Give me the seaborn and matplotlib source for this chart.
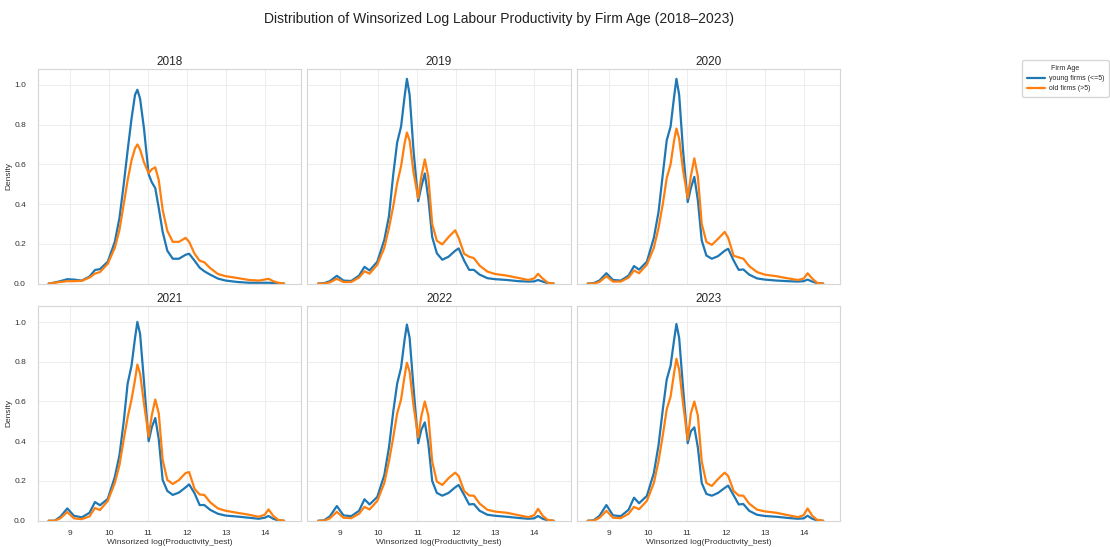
import numpy as np
import pandas as pd
import seaborn as sns
import matplotlib.pyplot as plt
from matplotlib.lines import Line2D

sns.set_theme(style="whitegrid")
plt.rcParams["font.family"] = ["Liberation Sans", "DejaVu Sans"]

years = [2018, 2019, 2020, 2021, 2022, 2023]
groups = ["young firms (<=5)", "old firms (>5)"]
colors = ["#1f77b4", "#ff7f0e"]

x_grid = [8.45, 8.6, 8.75, 8.93, 9.1, 9.3, 9.5, 9.64, 9.77, 9.97,
          10.15, 10.27, 10.38, 10.48, 10.58, 10.67, 10.73, 10.8, 10.9, 11.02,
          11.1, 11.19, 11.28, 11.38, 11.5, 11.64, 11.8, 11.97, 12.06, 12.2,
          12.33, 12.45, 12.6, 12.8, 13.0, 13.3, 13.6, 13.85, 14.0, 14.1,
          14.22, 14.35, 14.5]

young_2018 = [0.0, 0.005, 0.012, 0.022, 0.02, 0.015, 0.035, 0.068, 0.073, 0.11,
              0.21, 0.33, 0.5, 0.67, 0.83, 0.95, 0.975, 0.93, 0.78, 0.55,
              0.51, 0.48, 0.38, 0.26, 0.165, 0.125, 0.125, 0.145, 0.15, 0.115,
              0.08, 0.062, 0.045, 0.025, 0.015, 0.008, 0.004, 0.004, 0.004, 0.004,
              0.003, 0.002, 0.0]
old_2018 = [0.0, 0.004, 0.008, 0.012, 0.012, 0.014, 0.03, 0.05, 0.058, 0.1,
            0.18, 0.27, 0.4, 0.52, 0.62, 0.68, 0.70, 0.675, 0.61, 0.555,
            0.575, 0.585, 0.52, 0.37, 0.265, 0.21, 0.21, 0.23, 0.21, 0.15,
            0.115, 0.107, 0.078, 0.048, 0.037, 0.028, 0.018, 0.015, 0.02, 0.024,
            0.012, 0.004, 0.0]

young_2019 = [0.0, 0.002, 0.012, 0.039, 0.015, 0.013, 0.04, 0.084, 0.066, 0.11,
              0.22, 0.34, 0.55, 0.71, 0.79, 0.94, 1.03, 0.95, 0.67, 0.415,
              0.487, 0.554, 0.43, 0.234, 0.152, 0.12, 0.135, 0.165, 0.177, 0.116,
              0.069, 0.069, 0.045, 0.027, 0.022, 0.018, 0.012, 0.01, 0.011, 0.018,
              0.01, 0.002, 0.0]
old_2019 = [0.0, 0.0, 0.006, 0.024, 0.008, 0.008, 0.03, 0.062, 0.05, 0.095,
            0.18, 0.28, 0.39, 0.505, 0.59, 0.705, 0.76, 0.72, 0.56, 0.43,
            0.537, 0.625, 0.537, 0.30, 0.215, 0.197, 0.234, 0.268, 0.23, 0.15,
            0.135, 0.128, 0.09, 0.06, 0.048, 0.04, 0.028, 0.018, 0.026, 0.049,
            0.025, 0.004, 0.0]

young_2020 = [0.0, 0.002, 0.015, 0.052, 0.018, 0.015, 0.04, 0.088, 0.07, 0.11,
              0.23, 0.36, 0.55, 0.72, 0.79, 0.94, 1.03, 0.95, 0.67, 0.41,
              0.48, 0.537, 0.42, 0.217, 0.141, 0.125, 0.138, 0.165, 0.175, 0.116,
              0.069, 0.071, 0.045, 0.026, 0.02, 0.015, 0.012, 0.01, 0.012, 0.02,
              0.01, 0.002, 0.0]
old_2020 = [0.0, 0.0, 0.008, 0.037, 0.01, 0.01, 0.03, 0.066, 0.052, 0.095,
            0.18, 0.28, 0.40, 0.53, 0.60, 0.72, 0.78, 0.73, 0.57, 0.43,
            0.54, 0.63, 0.54, 0.30, 0.21, 0.195, 0.225, 0.26, 0.23, 0.14,
            0.132, 0.125, 0.088, 0.058, 0.045, 0.037, 0.026, 0.018, 0.025, 0.052,
            0.025, 0.003, 0.0]

young_2021 = [0.0, 0.0, 0.02, 0.062, 0.025, 0.017, 0.04, 0.094, 0.078, 0.11,
              0.22, 0.33, 0.50, 0.69, 0.78, 0.92, 1.0, 0.94, 0.70, 0.40,
              0.47, 0.517, 0.41, 0.205, 0.15, 0.13, 0.142, 0.168, 0.183, 0.138,
              0.079, 0.079, 0.055, 0.035, 0.026, 0.021, 0.015, 0.01, 0.015, 0.024,
              0.01, 0.002, 0.0]
old_2021 = [0.0, 0.0, 0.012, 0.044, 0.012, 0.008, 0.022, 0.064, 0.054, 0.1,
            0.19, 0.28, 0.41, 0.52, 0.61, 0.71, 0.786, 0.74, 0.59, 0.424,
            0.53, 0.61, 0.54, 0.306, 0.205, 0.185, 0.205, 0.24, 0.245, 0.16,
            0.132, 0.13, 0.093, 0.062, 0.05, 0.04, 0.03, 0.02, 0.03, 0.057,
            0.025, 0.004, 0.0]

young_2022 = [0.0, 0.002, 0.022, 0.074, 0.027, 0.023, 0.05, 0.108, 0.082, 0.12,
              0.23, 0.37, 0.55, 0.69, 0.77, 0.91, 0.987, 0.92, 0.67, 0.39,
              0.458, 0.495, 0.39, 0.20, 0.14, 0.126, 0.14, 0.168, 0.18, 0.13,
              0.082, 0.084, 0.05, 0.03, 0.025, 0.02, 0.014, 0.01, 0.012, 0.024,
              0.01, 0.002, 0.0]
old_2022 = [0.0, 0.0, 0.012, 0.045, 0.015, 0.013, 0.035, 0.07, 0.057, 0.1,
            0.19, 0.30, 0.42, 0.54, 0.61, 0.727, 0.795, 0.75, 0.58, 0.42,
            0.525, 0.60, 0.53, 0.298, 0.197, 0.18, 0.214, 0.242, 0.225, 0.15,
            0.127, 0.126, 0.086, 0.055, 0.046, 0.04, 0.028, 0.018, 0.028, 0.06,
            0.025, 0.004, 0.0]

young_2023 = [0.0, 0.002, 0.024, 0.079, 0.027, 0.023, 0.055, 0.116, 0.088, 0.125,
              0.24, 0.38, 0.56, 0.71, 0.78, 0.91, 0.99, 0.92, 0.67, 0.39,
              0.45, 0.47, 0.37, 0.19, 0.135, 0.126, 0.14, 0.165, 0.177, 0.128,
              0.082, 0.084, 0.05, 0.03, 0.024, 0.02, 0.014, 0.01, 0.012, 0.025,
              0.01, 0.002, 0.0]
old_2023 = [0.0, 0.0, 0.014, 0.05, 0.015, 0.013, 0.035, 0.07, 0.058, 0.1,
            0.19, 0.30, 0.43, 0.56, 0.625, 0.744, 0.815, 0.76, 0.59, 0.407,
            0.54, 0.60, 0.53, 0.298, 0.19, 0.175, 0.21, 0.242, 0.225, 0.15,
            0.127, 0.126, 0.086, 0.056, 0.047, 0.04, 0.028, 0.018, 0.028, 0.062,
            0.025, 0.004, 0.0]

young_all = [young_2018, young_2019, young_2020, young_2021, young_2022, young_2023]
old_all = [old_2018, old_2019, old_2020, old_2021, old_2022, old_2023]

x_ticks = [9, 10, 11, 12, 13, 14]
y_ticks = [0.0, 0.2, 0.4, 0.6, 0.8, 1.0]

rows = []
for year, yv, ov in zip(years, young_all, old_all):
    for grp, vals in zip(groups, (yv, ov)):
        for xv, d in zip(x_grid, vals):
            rows.append({"Year": year, "Firm Age": grp, "x": xv, "Density": d})
df = pd.DataFrame(rows)

g = sns.relplot(data=df, x="x", y="Density", hue="Firm Age", hue_order=groups,
                col="Year", col_wrap=3, kind="line", palette=colors,
                linewidth=1.6, legend=False, errorbar=None,
                height=2.5, aspect=1.2,
                facet_kws=dict(sharex=True, sharey=True, despine=False))
fig = g.figure
fig.set_size_inches(11.1, 5.47)
fig.subplots_adjust(left=0.034, right=0.757, bottom=0.048, top=0.874,
                    wspace=0.023, hspace=0.105)

g.set_titles("{col_name}", size=8.5, pad=3)
g.set_axis_labels("", "")
for i, ax in enumerate(g.axes.flat):
    ax.set_xlim(8.17, 14.94)
    ax.set_ylim(0, 1.08)
    ax.set_xticks(x_ticks)
    ax.set_yticks(y_ticks)
    ax.tick_params(labelsize=6, colors="#333333", pad=1)
    ax.tick_params(axis="y", pad=2.5)
    ax.grid(color="#ededed", linewidth=0.7)
    for s in ax.spines.values():
        s.set_visible(True)
        s.set_color("#d5d5d5")
        s.set_linewidth(0.8)
    if i % 3 == 0:
        ax.set_ylabel("Density", fontsize=6, color="#333333", labelpad=1.5)
    if i >= 3:
        ax.set_xlabel("Winsorized log(Productivity_best)", fontsize=6,
                      color="#333333", labelpad=1)

fig.suptitle("Distribution of Winsorized Log Labour Productivity by Firm Age (2018\u20132023)",
             fontsize=10, x=0.45, y=0.978, color="#222222")

handles = [Line2D([0], [0], color=c, lw=1.6) for c in colors]
leg = fig.legend(handles, groups, title="Firm Age", loc="upper left",
                 bbox_to_anchor=(0.918, 0.896), fontsize=5, title_fontsize=5,
                 frameon=True, handlelength=2.6, handletextpad=0.6,
                 borderpad=0.6)
leg.get_frame().set_edgecolor("#cccccc")

fig.savefig("out.png", dpi=100)
